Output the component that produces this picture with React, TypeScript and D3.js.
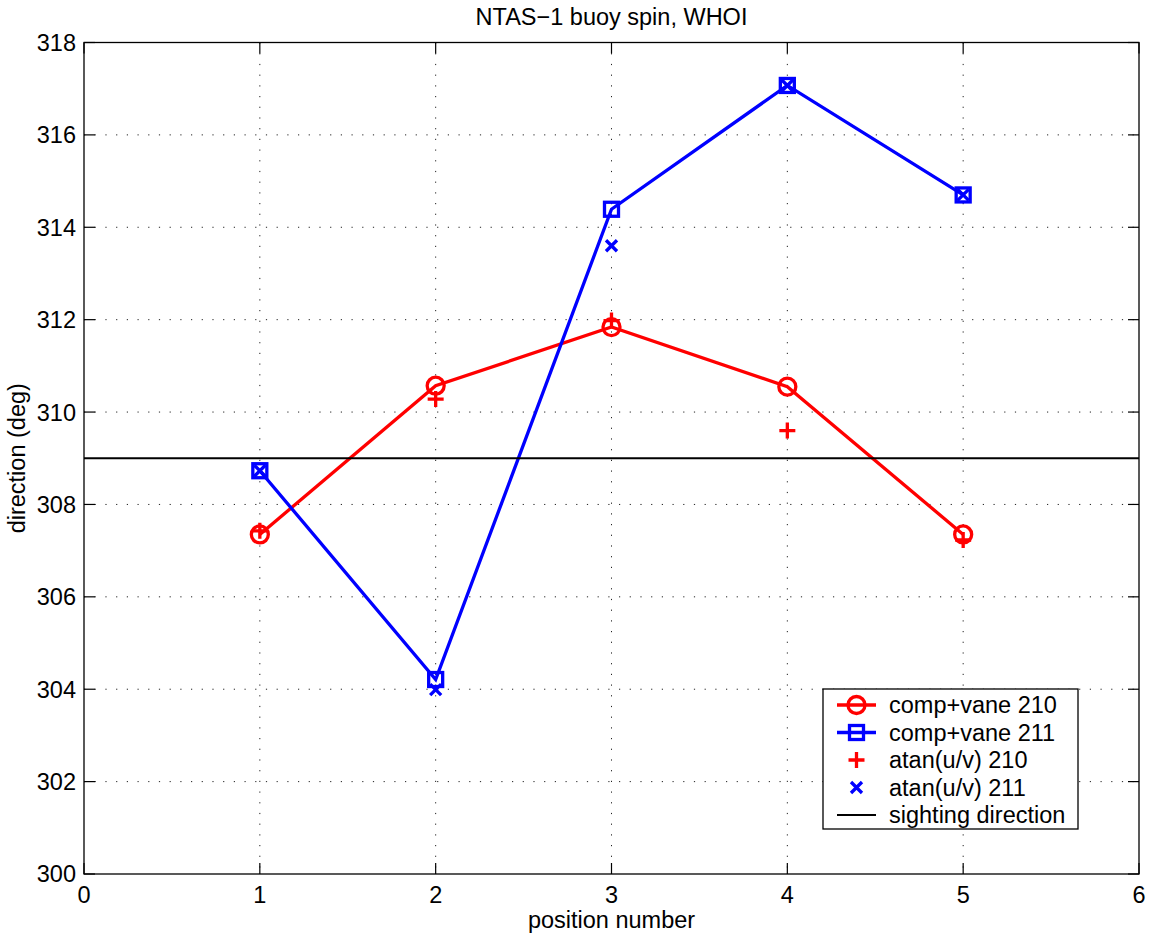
import { useMemo } from "react";
import * as d3 from "d3";

const positions = [1, 2, 3, 4, 5];
const compVane210 = [307.35, 310.57, 311.84, 310.55, 307.35];
const compVane211 = [308.73, 304.21, 314.39, 317.07, 314.7];
const atan210 = [307.43, 310.28, 311.98, 309.6, 307.23];
const atan211 = [308.73, 303.99, 313.6, 317.07, 314.7];
const sighting = 309;

const xTicks = [0, 1, 2, 3, 4, 5, 6];
const yTicks = [300, 302, 304, 306, 308, 310, 312, 314, 316, 318];

const legendItems = [
  { label: "comp+vane 210", kind: "circle", color: "#ff0000", line: true },
  { label: "comp+vane 211", kind: "square", color: "#0000ff", line: true },
  { label: "atan(u/v) 210", kind: "plus", color: "#ff0000", line: false },
  { label: "atan(u/v) 211", kind: "cross", color: "#0000ff", line: false },
  { label: "sighting direction", kind: "none", color: "#000000", line: true },
];

const W = 1151;
const H = 938;
const FONT = "'Liberation Sans', Arial, Helvetica, sans-serif";
const FS = 23.5;
const LW = 3.3;

function Marker({ kind, x, y, color }: { kind: string; x: number; y: number; color: string }) {
  if (kind === "circle") return <circle cx={x} cy={y} r={8.5} fill="none" stroke={color} strokeWidth={LW} />;
  if (kind === "square") return <rect x={x - 7} y={y - 7} width={14} height={14} fill="none" stroke={color} strokeWidth={LW} />;
  if (kind === "plus")
    return (
      <path d={`M${x - 8},${y}H${x + 8}M${x},${y - 8}V${y + 8}`} stroke={color} strokeWidth={LW} fill="none" />
    );
  if (kind === "cross")
    return (
      <path d={`M${x - 5.5},${y - 5.5}L${x + 5.5},${y + 5.5}M${x - 5.5},${y + 5.5}L${x + 5.5},${y - 5.5}`} stroke={color} strokeWidth={LW} fill="none" />
    );
  return null;
}

export default function App() {
  const left = 84, right = 1139, top = 42.5, bottom = 874;
  const x = useMemo(() => d3.scaleLinear().domain([0, 6]).range([left, right]), []);
  const y = useMemo(() => d3.scaleLinear().domain([300, 318]).range([bottom, top]), []);

  const line = d3
    .line<number>()
    .x((_, i) => x(positions[i]))
    .y((d) => y(d));

  const tickLen = 11;
  const lx = 823, ly = 689, lw = 255, lh = 140;

  return (
    <div style={{ position: "absolute", left: 0, top: 0 }}>
      <svg width={W} height={H} viewBox={`0 0 ${W} ${H}`} style={{ display: "block", fontFamily: FONT }}>
        <rect width={W} height={H} fill="#fff" />

        {/* grid */}
        {xTicks.slice(1, -1).map((t) => (
          <line key={"gx" + t} x1={x(t)} x2={x(t)} y1={top} y2={bottom} stroke="#222" strokeWidth={1} strokeDasharray="1.2 9.5" />
        ))}
        {yTicks.slice(1, -1).map((t) => (
          <line key={"gy" + t} x1={left} x2={right} y1={y(t)} y2={y(t)} stroke="#222" strokeWidth={1} strokeDasharray="1.2 9.5" />
        ))}

        {/* data */}
        <path d={line(compVane210) ?? ""} fill="none" stroke="#ff0000" strokeWidth={LW} />
        {compVane210.map((v, i) => (
          <Marker key={"c" + i} kind="circle" x={x(positions[i])} y={y(v)} color="#ff0000" />
        ))}
        <path d={line(compVane211) ?? ""} fill="none" stroke="#0000ff" strokeWidth={LW} />
        {compVane211.map((v, i) => (
          <Marker key={"s" + i} kind="square" x={x(positions[i])} y={y(v)} color="#0000ff" />
        ))}
        {atan210.map((v, i) => (
          <Marker key={"p" + i} kind="plus" x={x(positions[i])} y={y(v)} color="#ff0000" />
        ))}
        {atan211.map((v, i) => (
          <Marker key={"x" + i} kind="cross" x={x(positions[i])} y={y(v)} color="#0000ff" />
        ))}
        <line x1={left} x2={right} y1={y(sighting)} y2={y(sighting)} stroke="#000" strokeWidth={2} />

        {/* axes box and ticks */}
        <rect x={left} y={top} width={right - left} height={bottom - top} fill="none" stroke="#000" strokeWidth={1.3} />
        {xTicks.map((t) => (
          <g key={"tx" + t}>
            <line x1={x(t)} x2={x(t)} y1={bottom} y2={bottom - tickLen} stroke="#000" strokeWidth={1.2} />
            <line x1={x(t)} x2={x(t)} y1={top} y2={top + tickLen} stroke="#000" strokeWidth={1.2} />
            <text x={x(t)} y={902.5} textAnchor="middle" fontSize={FS} fill="#000">{t}</text>
          </g>
        ))}
        {yTicks.map((t) => (
          <g key={"ty" + t}>
            <line x1={left} x2={left + tickLen} y1={y(t)} y2={y(t)} stroke="#000" strokeWidth={1.2} />
            <line x1={right} x2={right - tickLen} y1={y(t)} y2={y(t)} stroke="#000" strokeWidth={1.2} />
            <text x={76} y={y(t)} dy="0.36em" textAnchor="end" fontSize={FS} fill="#000">{t}</text>
          </g>
        ))}

        {/* labels */}
        <text x={(left + right) / 2} y={25} textAnchor="middle" fontSize={FS} fill="#000">NTAS−1 buoy spin, WHOI</text>
        <text x={(left + right) / 2} y={928} textAnchor="middle" fontSize={FS} fill="#000">position number</text>
        <text transform={`translate(25,${(top + bottom) / 2}) rotate(-90)`} textAnchor="middle" fontSize={FS} fill="#000">direction (deg)</text>

        {/* legend */}
        <rect x={lx} y={ly} width={lw} height={lh} fill="#fff" stroke="#000" strokeWidth={1.3} />
        {legendItems.map((d, i) => {
          const cy = 705 + i * 27.5;
          return (
            <g key={d.label}>
              {d.line && <line x1={837} x2={876} y1={cy} y2={cy} stroke={d.color} strokeWidth={d.kind === "none" ? 2 : LW} />}
              <Marker kind={d.kind} x={856.5} y={cy} color={d.color} />
              <text x={889} y={cy} dy="0.36em" fontSize={FS} fill="#000">{d.label}</text>
            </g>
          );
        })}
      </svg>
    </div>
  );
}
